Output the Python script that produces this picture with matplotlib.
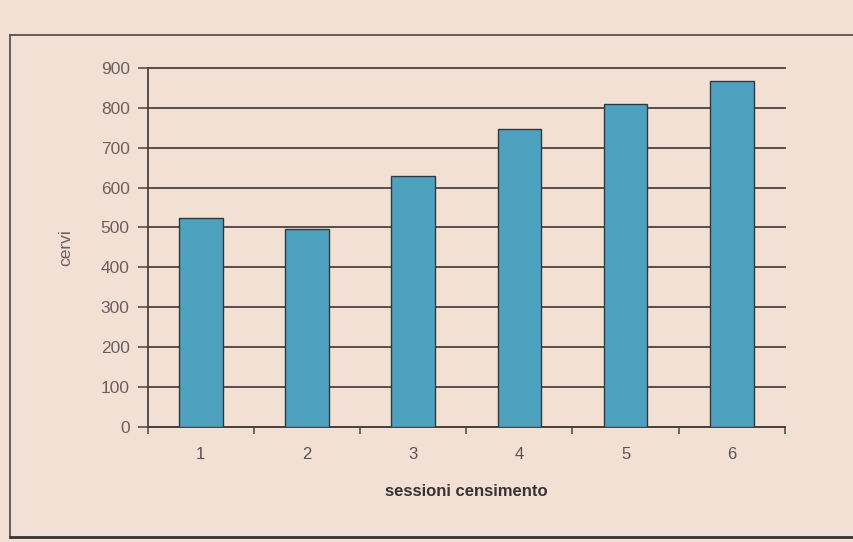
import matplotlib.pyplot as plt
from matplotlib.lines import Line2D

# census sessions and deer counted
sessioni = ["1", "2", "3", "4", "5", "6"]
cervi = [524, 495, 628, 746, 808, 866]
y_ticks = [0, 100, 200, 300, 400, 500, 600, 700, 800, 900]

paper = "#f2e0d4"
bar_color = "#4fa2bf"
line_color = "#4a4242"

plt.rcParams["font.family"] = ["Liberation Sans", "DejaVu Sans"]

fig = plt.figure(figsize=(8.54, 5.42), dpi=100, facecolor=paper)
ax = fig.add_axes([0.173, 0.212, 0.746, 0.663])
ax.set_facecolor(paper)

x = list(range(len(sessioni)))
ax.bar(x, cervi, width=0.41, color=bar_color, edgecolor="#2f3a3e",
       linewidth=1.0, zorder=3)

ax.set_ylim(0, 900)
ax.set_xlim(-0.5, len(sessioni) - 0.5)
ax.set_yticks(y_ticks)
ax.yaxis.grid(True, color=line_color, linewidth=1.3, zorder=0)
for gl in ax.get_ygridlines():
    gl.set_clip_on(False)

# category ticks sit between the bars, labels under the bar centres
ax.set_xticks([i - 0.5 for i in range(len(sessioni) + 1)])
ax.set_xticklabels([])
ax.set_xticks(x, minor=True)
ax.set_xticklabels(sessioni, minor=True)
ax.tick_params(axis="x", which="minor", length=0, pad=14,
               labelsize=12, labelcolor="#5a5252")
ax.tick_params(axis="x", which="major", length=5, width=1.1, color=line_color)
ax.tick_params(axis="y", length=7, width=1.1, color=line_color, pad=6,
               labelsize=12.5, labelcolor="#6a6060")

for side in ["top", "right"]:
    ax.spines[side].set_visible(False)
for side in ["left", "bottom"]:
    ax.spines[side].set_color(line_color)
    ax.spines[side].set_linewidth(1.3)

ax.set_ylabel("cervi", fontsize=12.5, color="#6a6060", labelpad=20)
ax.set_xlabel("sessioni censimento", fontsize=12, fontweight="bold",
              color="#3a3232", labelpad=16)

# box around the chart
fig.add_artist(Line2D([0.012, 0.012], [0.01, 0.935], transform=fig.transFigure,
                      color="#5a5050", linewidth=1.3))
fig.add_artist(Line2D([0.012, 1.0], [0.935, 0.935], transform=fig.transFigure,
                      color="#5a5050", linewidth=1.3))
fig.add_artist(Line2D([0.012, 1.0], [0.01, 0.01], transform=fig.transFigure,
                      color="#3a3232", linewidth=2.0))

fig.savefig("out.png", dpi=100, facecolor=paper)
